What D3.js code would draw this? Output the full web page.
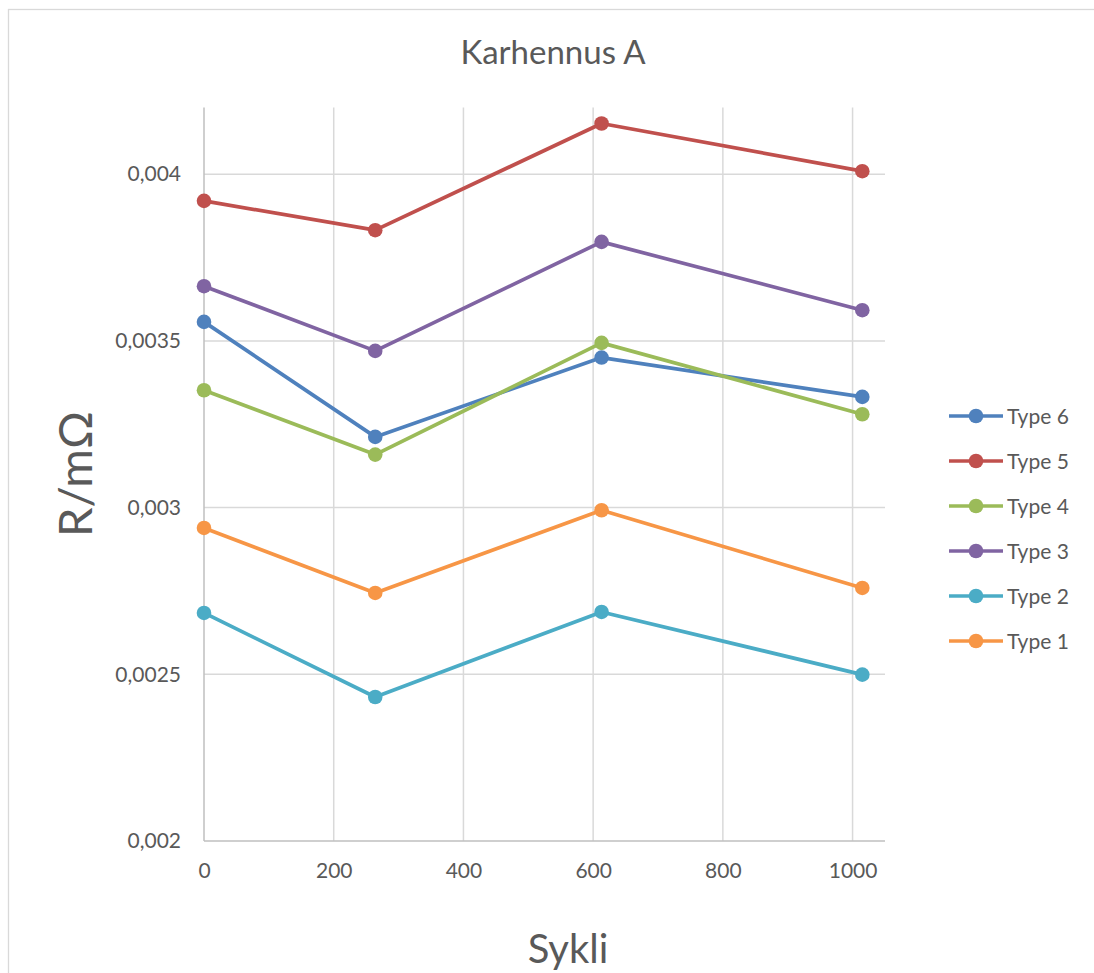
<!DOCTYPE html>
<html>
<head>
<meta charset="utf-8">
<script src="https://cdn.jsdelivr.net/npm/d3@7"></script>
<style>
  body { margin: 0; background: #fff; }
  svg { display: block; font-family: Lato, "Open Sans", sans-serif; }
</style>
</head>
<body>
<div id="chart"></div>
<script>
// chart data
const cycles = [0, 264, 613, 1015];
const seriesNames = ["Type 6", "Type 5", "Type 4", "Type 3", "Type 2", "Type 1"];
const seriesColors = ["#4F81BD", "#C0504D", "#9BBB59", "#8064A2", "#4BACC6", "#F79646"];
const type6 = [0.003557, 0.003212, 0.003450, 0.003332];
const type5 = [0.003920, 0.003832, 0.004152, 0.004009];
const type4 = [0.003352, 0.003159, 0.003494, 0.003280];
const type3 = [0.003664, 0.003470, 0.003797, 0.003592];
const type2 = [0.002684, 0.002432, 0.002687, 0.002499];
const type1 = [0.002939, 0.002744, 0.002992, 0.002759];
const seriesValues = [type6, type5, type4, type3, type2, type1];
const xTicks = [0, 200, 400, 600, 800, 1000];
const yTicks = [0.002, 0.0025, 0.003, 0.0035, 0.004];

const W = 1094, H = 973;
const PLOT = { left: 204, right: 885, top: 107.5, bottom: 841 };

const svg = d3.select("#chart").append("svg")
  .attr("width", W)
  .attr("height", H);

// chart area border
svg.append("rect")
  .attr("x", 8.5).attr("y", 9.5)
  .attr("width", W + 20).attr("height", H + 20)
  .attr("fill", "#fff")
  .attr("stroke", "#D9D9D9")
  .attr("stroke-width", 1.3);

const x = d3.scaleLinear().domain([0, 1050]).range([PLOT.left, PLOT.right]);
const y = d3.scaleLinear().domain([0.002, 0.0042]).range([PLOT.bottom, PLOT.top]);

const fmt = (d) => String(d).replace(".", ",");

// gridlines
svg.append("g")
  .selectAll("line.vgrid")
  .data(xTicks.slice(1))
  .join("line")
  .attr("x1", (d) => x(d)).attr("x2", (d) => x(d))
  .attr("y1", PLOT.top).attr("y2", PLOT.bottom)
  .attr("stroke", "#D9D9D9")
  .attr("stroke-width", 1.5);

svg.append("g")
  .selectAll("line.hgrid")
  .data(yTicks.slice(1))
  .join("line")
  .attr("x1", PLOT.left).attr("x2", PLOT.right)
  .attr("y1", (d) => y(d)).attr("y2", (d) => y(d))
  .attr("stroke", "#D9D9D9")
  .attr("stroke-width", 1.5);

// axis lines
svg.append("line")
  .attr("x1", PLOT.left).attr("x2", PLOT.left)
  .attr("y1", PLOT.top).attr("y2", PLOT.bottom)
  .attr("stroke", "#BFBFBF").attr("stroke-width", 1.5);
svg.append("line")
  .attr("x1", PLOT.left).attr("x2", PLOT.right)
  .attr("y1", PLOT.bottom).attr("y2", PLOT.bottom)
  .attr("stroke", "#BFBFBF").attr("stroke-width", 1.5);

// tick labels
const xAxis = svg.append("g")
  .attr("transform", `translate(0,${PLOT.bottom})`)
  .call(d3.axisBottom(x).tickValues(xTicks).tickSize(0).tickPadding(22).tickFormat(fmt));
const yAxis = svg.append("g")
  .attr("transform", `translate(${PLOT.left},0)`)
  .call(d3.axisLeft(y).tickValues(yTicks).tickSize(0).tickPadding(23).tickFormat(fmt));
[xAxis, yAxis].forEach((a) => {
  a.select(".domain").remove();
  a.selectAll("text")
    .attr("fill", "#595959")
    .style("font-size", "21px")
    .style("font-family", "Lato, sans-serif");
});

// lines and markers
const line = d3.line()
  .x((d, i) => x(cycles[i]))
  .y((d) => y(d));

seriesValues.forEach((vals, s) => {
  const g = svg.append("g");
  g.append("path")
    .attr("d", line(vals))
    .attr("fill", "none")
    .attr("stroke", seriesColors[s])
    .attr("stroke-width", 3.7)
    .attr("stroke-linejoin", "round");
  g.selectAll("circle")
    .data(vals)
    .join("circle")
    .attr("cx", (d, i) => x(cycles[i]))
    .attr("cy", (d) => y(d))
    .attr("r", 7.3)
    .attr("fill", seriesColors[s]);
});

// title
svg.append("text")
  .attr("x", 553).attr("y", 64)
  .attr("text-anchor", "middle")
  .attr("fill", "#595959")
  .style("font-size", "33px")
  .text("Karhennus A");

// axis titles
svg.append("text")
  .attr("transform", "translate(92,474) rotate(-90)")
  .attr("text-anchor", "middle")
  .attr("fill", "#595959")
  .style("font-size", "47px")
  .text("R/mΩ");

svg.append("text")
  .attr("x", 568).attr("y", 963)
  .attr("text-anchor", "middle")
  .attr("fill", "#595959")
  .style("font-size", "40px")
  .text("Sykli");

// legend
const legend = svg.append("g")
  .selectAll("g")
  .data(seriesNames)
  .join("g")
  .attr("transform", (d, i) => `translate(949,${416 + i * 45})`);
legend.append("line")
  .attr("x1", 0).attr("x2", 54)
  .attr("stroke", (d, i) => seriesColors[i])
  .attr("stroke-width", 3.7);
legend.append("circle")
  .attr("cx", 27).attr("r", 7.3)
  .attr("fill", (d, i) => seriesColors[i]);
legend.append("text")
  .attr("x", 58).attr("dy", "0.36em")
  .attr("fill", "#595959")
  .style("font-size", "21px")
  .text((d) => d);
</script>
</body>
</html>
